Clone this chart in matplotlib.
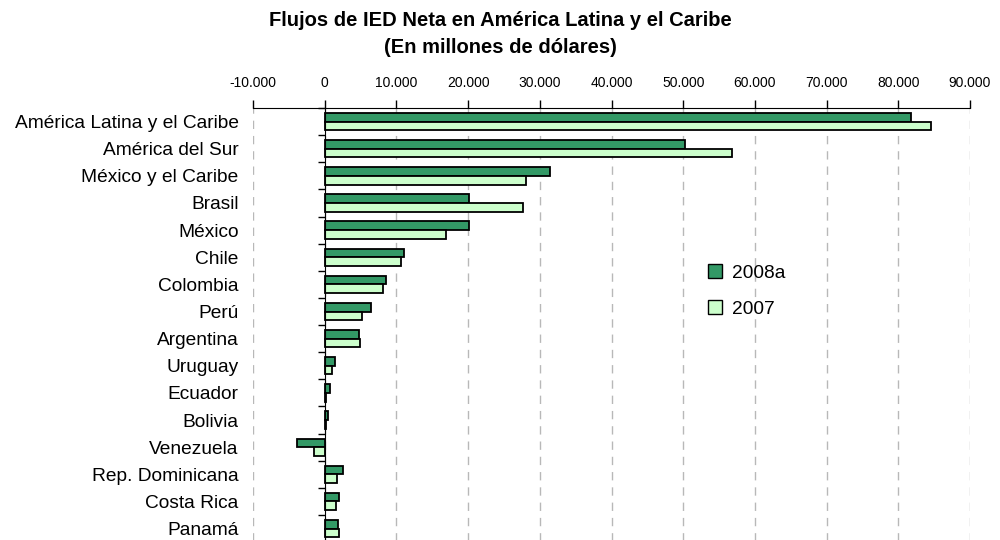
import matplotlib.pyplot as plt
import matplotlib.patches as mpatches
import numpy as np
from matplotlib.ticker import FuncFormatter, FixedLocator

plt.rcParams['font.family'] = ['Liberation Sans', 'DejaVu Sans']

# IED neta por país / subregión (millones de dólares)
paises = ['América Latina y el Caribe', 'América del Sur', 'México y el Caribe',
          'Brasil', 'México', 'Chile', 'Colombia', 'Perú', 'Argentina',
          'Uruguay', 'Ecuador', 'Bolivia', 'Venezuela', 'Rep. Dominicana',
          'Costa Rica', 'Panamá']
ied_2008 = [81800, 50300, 31400, 20100, 20100, 11100, 8600, 6500, 4800,
            1500, 700, 500, -3800, 2500, 2000, 1800]
ied_2007 = [84600, 56800, 28100, 27700, 16900, 10600, 8100, 5200, 4900,
            1000, 200, 200, -1500, 1750, 1550, 2000]
xticks = list(range(-10000, 90001, 10000))

verde = '#339966'
verde_claro = '#CCFFCC'

fig = plt.figure(figsize=(10, 5.4), dpi=100)
ax = fig.add_axes([0.253, -0.004, 0.717, 0.804])

y = np.arange(len(paises))
h = 0.32
ax.barh(y - h / 2, ied_2008, height=h, color=verde, edgecolor='black', linewidth=1.3, zorder=3)
ax.barh(y + h / 2, ied_2007, height=h, color=verde_claro, edgecolor='black', linewidth=1.3, zorder=3)

ax.set_ylim(len(paises) - 0.5, -0.5)
ax.set_xlim(xticks[0], xticks[-1])

# eje x arriba
ax.xaxis.set_ticks_position('top')
ax.xaxis.set_label_position('top')
ax.set_xticks(xticks)
ax.xaxis.set_major_formatter(FuncFormatter(lambda v, p: f'{int(v):,}'.replace(',', '.')))
ax.tick_params(axis='x', which='major', direction='out', length=6, width=1,
               pad=7, labelsize=10, colors='black')
ax.grid(axis='x', color='#b8b8b8', linestyle=(0, (6, 5)), linewidth=1, zorder=0)

# eje de categorías en x = 0
ax.spines['left'].set_position(('data', 0))
ax.spines['left'].set_zorder(4)
ax.spines['right'].set_visible(False)
ax.spines['bottom'].set_visible(False)
ax.set_yticks(y)
ax.set_yticklabels(paises)
ax.yaxis.set_minor_locator(FixedLocator(np.arange(-0.5, len(paises), 1)))
ax.tick_params(axis='y', which='major', length=0, pad=62, labelsize=13.8)
ax.tick_params(axis='y', which='minor', length=5, width=1, direction='out')

fig.text(0.5, 0.962, 'Flujos de IED Neta en América Latina y el Caribe',
         ha='center', va='center', fontsize=14.5, fontweight='bold')
fig.text(0.5, 0.912, '(En millones de dólares)',
         ha='center', va='center', fontsize=14.5, fontweight='bold')

handles = [mpatches.Patch(facecolor=verde, edgecolor='black', label='2008a'),
           mpatches.Patch(facecolor=verde_claro, edgecolor='black', label='2007')]
ax.legend(handles=handles, loc='upper left', bbox_to_anchor=(0.61, 0.68),
          frameon=False, fontsize=13.8, handlelength=0.75, handleheight=0.75,
          handletextpad=0.5, labelspacing=0.95)

fig.savefig('out.png', dpi=100)
